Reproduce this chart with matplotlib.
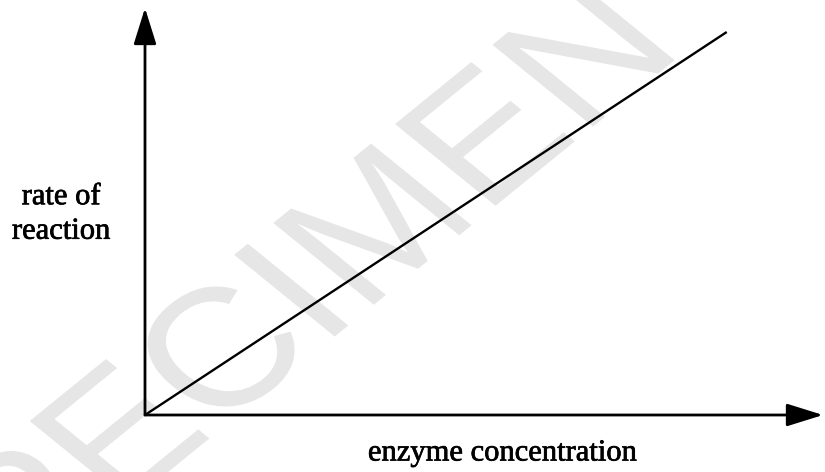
import matplotlib
matplotlib.use("Agg")
import matplotlib.pyplot as plt
import matplotlib.patheffects as pe
from matplotlib.textpath import TextPath
from matplotlib.patches import PathPatch
from matplotlib.font_manager import FontProperties
from matplotlib.transforms import Affine2D, IdentityTransform

# rate of reaction rises in proportion to enzyme concentration
enzyme_conc = [0, 8.58]
reaction_rate = [0, 9.41]

x_label = "enzyme concentration"
y_label = "rate of\nreaction"
watermark = "SPECIMEN"

W, H = 825, 472
fig = plt.figure(figsize=(W / 100, H / 100), dpi=100)

# axes box: origin at pixel (145, 415), arrow tips at x=823 and y=8
left, bottom = 145 / W, (H - 415) / H
ax = fig.add_axes([left, bottom, (823 - 145) / W, (415 - 8) / H])
ax.set_xlim(0, 10)
ax.set_ylim(0, 10)
ax.axis("off")

# watermark: text rotated 45 deg then stretched sideways, in pixel coords
tp = TextPath((0, 0), watermark, size=168,
              prop=FontProperties(family="Liberation Sans"))
bb = tp.get_extents()
wm_tf = (Affine2D()
         .translate(-(bb.x0 + bb.x1) / 2, -(bb.y0 + bb.y1) / 2)
         .rotate_deg(45)
         .scale(1.23, 1.0)
         .translate(252, H - 322))
wm = PathPatch(wm_tf.transform_path(tp), facecolor="#e6e6e6",
               edgecolor="none", transform=IdentityTransform(), zorder=-1)
fig.add_artist(wm)

arrow = dict(arrowstyle="-|>,head_length=1.6,head_width=0.5",
             color="black", lw=2.0, shrinkA=0, shrinkB=0, mutation_scale=14)
ax.annotate("", xy=(1, 0), xytext=(0, 0), xycoords="axes fraction",
            arrowprops=arrow, annotation_clip=False)
ax.annotate("", xy=(0, 1), xytext=(0, 0), xycoords="axes fraction",
            arrowprops=arrow, annotation_clip=False)

ax.plot(enzyme_conc, reaction_rate, color="black", lw=1.7,
        solid_capstyle="butt", clip_on=False)

serif = ["Liberation Serif", "DejaVu Serif"]
heavy = [pe.withStroke(linewidth=0.5, foreground="black")]
fig.text(502 / W, 1 - 453 / H, x_label, fontsize=22, family=serif,
         ha="center", va="center", path_effects=heavy)
fig.text(61 / W, 1 - 214 / H, y_label, fontsize=22, family=serif,
         ha="center", va="center", linespacing=1.25, path_effects=heavy)

fig.savefig("out.png", dpi=100, facecolor="white")
